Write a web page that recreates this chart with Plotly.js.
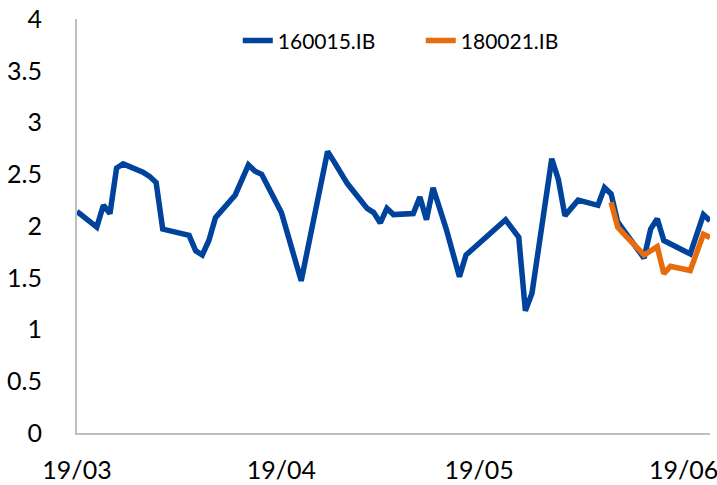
<!DOCTYPE html>
<html>
<head>
<meta charset="utf-8">
<script src="https://cdn.plot.ly/plotly-3.0.1.min.js"></script>
<style>html,body{margin:0;padding:0;background:#fff;}#chart{width:717px;height:485px;}</style>
</head>
<body>
<div id="chart"></div>
<script>
const seriesNames = ["160015.IB", "180021.IB"];

const dates160015 = [
  "2019-03-01","2019-03-04","2019-03-05","2019-03-06","2019-03-07","2019-03-08",
  "2019-03-11","2019-03-12","2019-03-13","2019-03-14","2019-03-18","2019-03-19",
  "2019-03-20","2019-03-21","2019-03-22","2019-03-25","2019-03-27","2019-03-28",
  "2019-03-29","2019-04-01","2019-04-04","2019-04-07","2019-04-08","2019-04-09",
  "2019-04-11","2019-04-14","2019-04-15","2019-04-16","2019-04-17","2019-04-18",
  "2019-04-21","2019-04-22","2019-04-23","2019-04-24","2019-04-26","2019-04-28",
  "2019-04-29","2019-05-05","2019-05-07","2019-05-08","2019-05-09","2019-05-12",
  "2019-05-13","2019-05-14","2019-05-16","2019-05-19","2019-05-20","2019-05-21",
  "2019-05-22","2019-05-23","2019-05-26","2019-05-27","2019-05-28","2019-05-29",
  "2019-06-02","2019-06-04","2019-06-05"
];
const values160015 = [
  2.14,1.99,2.20,2.12,2.56,2.60,
  2.52,2.48,2.42,1.97,1.91,1.76,
  1.72,1.86,2.08,2.30,2.59,2.53,
  2.50,2.13,1.47,2.41,2.72,2.62,
  2.41,2.17,2.13,2.03,2.17,2.11,
  2.12,2.28,2.06,2.37,1.97,1.51,
  1.72,2.06,1.89,1.18,1.35,2.65,
  2.45,2.10,2.25,2.20,2.37,2.31,
  2.04,1.95,1.69,1.97,2.07,1.86,
  1.73,2.11,2.05
];

const dates180021 = [
  "2019-05-21","2019-05-22","2019-05-23","2019-05-26","2019-05-28",
  "2019-05-29","2019-05-30","2019-06-02","2019-06-04","2019-06-05"
];
const values180021 = [2.23,1.99,1.92,1.72,1.80,1.54,1.61,1.57,1.92,1.89];

const xTickVals = ["2019-03-01","2019-04-01","2019-05-01","2019-06-01"];
const xTickText = ["19/03","19/04","19/05","19/06"];
const xRange = ["2019-03-01","2019-06-05"];
const yRange = [0, 4];

const FONT = "Lato, Carlito, Calibri, 'Liberation Sans', sans-serif";

const traces = [
  {x: dates160015, y: values160015, name: seriesNames[0], type: "scatter", mode: "lines",
   line: {color: "#00439C", width: 5.5}},
  {x: dates180021, y: values180021, name: seriesNames[1], type: "scatter", mode: "lines",
   line: {color: "#E66C0C", width: 5.5}}
];

const layout = {
  width: 717, height: 485,
  margin: {l: 77, r: 7, t: 19, b: 52},
  paper_bgcolor: "#fff", plot_bgcolor: "#fff",
  font: {family: FONT, size: 25, color: "#000"},
  showlegend: true,
  legend: {orientation: "h", x: 0.254, xanchor: "left", y: 0.947, yanchor: "middle",
    entrywidth: 138, entrywidthmode: "pixels",
    bgcolor: "rgba(0,0,0,0)", font: {family: FONT, size: 21, color: "#000"}},
  xaxis: {type: "date", range: xRange, tickvals: xTickVals, ticktext: xTickText,
    showgrid: false, zeroline: false, showline: true, linecolor: "#BFBFBF", linewidth: 2,
    ticks: "", ticklabelstandoff: 14, ticklabeloverflow: "allow",
    tickfont: {family: FONT, size: 25, color: "#000"}},
  yaxis: {range: yRange, dtick: 0.5, tick0: 0, showgrid: false, zeroline: false,
    showline: true, linecolor: "#BFBFBF", linewidth: 2, ticks: "", ticklabelstandoff: 28,
    tickfont: {family: FONT, size: 25, color: "#000"}}
};

Plotly.newPlot("chart", traces, layout, {displayModeBar: false, staticPlot: true});
</script>
</body>
</html>
